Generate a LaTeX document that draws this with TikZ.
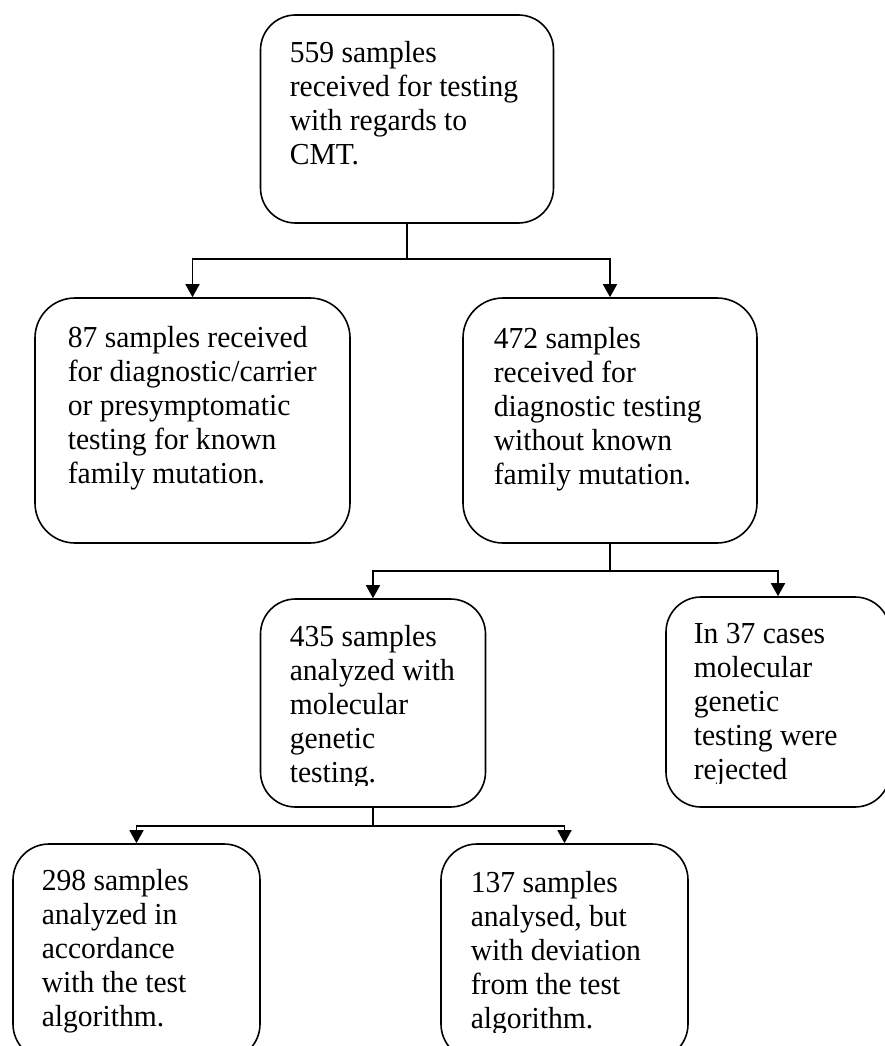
\documentclass[tikz,border=0pt]{standalone}
\usepackage{fontspec}
\setmainfont{Liberation Serif}[FakeStretch=0.97]
\usetikzlibrary{arrows.meta}
\begin{document}
\begin{tikzpicture}[x=1pt,y=-1pt, line width=1.6pt,
  box/.style={draw, line width=1.6pt, inner sep=0pt},
  arr/.style={-{Triangle[width=14pt,length=13pt]}},
  txt/.style={anchor=base west, inner sep=0pt, font=\fontsize{30.5}{34}\selectfont}
]
\useasboundingbox (0,0) rectangle (885,1046);
\newcommand{\tb}[1]{\parbox[t]{300pt}{\raggedright #1}}
% boxes
\node[box, rounded corners=35pt, minimum width=293pt, minimum height=208pt] (b1) at (407,119) {};
\node[box, rounded corners=40pt, minimum width=315pt, minimum height=245pt] (b2) at (192.5,420.5) {};
\node[box, rounded corners=40pt, minimum width=294pt, minimum height=245pt] (b3) at (610,420.5) {};
\node[box, rounded corners=35pt, minimum width=225pt, minimum height=208pt] (b4) at (373,703) {};
\node[box, rounded corners=35pt, minimum width=224pt, minimum height=210pt] (b5) at (778,702) {};
\node[box, rounded corners=36pt, minimum width=247pt, minimum height=216pt] (b6) at (136.5,952) {};
\node[box, rounded corners=36pt, minimum width=247pt, minimum height=216pt] (b7) at (564.5,952) {};
% texts
\begin{scope}
\clip (260,15) rectangle (553,205);
\node[txt] (t1) at (289,63) {\tb{559 samples\\received for testing\\with regards to\\CMT.}};
\end{scope}
\begin{scope}
\clip (35,298) rectangle (350,525);
\node[txt] (t2) at (67,347) {\tb{87 samples received\\for diagnostic/carrier\\or presymptomatic\\testing for known\\family mutation.}};
\end{scope}
\begin{scope}
\clip (463,298) rectangle (757,525);
\node[txt] (t3) at (493,348) {\tb{472 samples\\received for\\diagnostic testing\\without known\\family mutation.}};
\end{scope}
\begin{scope}
\clip (261,599) rectangle (486,785);
\node[txt] (t4) at (289,646) {\tb{435 samples\\analyzed with\\molecular\\genetic\\testing.}};
\end{scope}
\begin{scope}
\clip (666,597) rectangle (885,783);
\node[txt] (t5) at (693,643) {\tb{In 37 cases\\molecular\\genetic\\testing were\\rejected}};
\end{scope}
\begin{scope}
\clip (13,844) rectangle (260,1032);
\node[txt] (t6) at (41,890) {\tb{298 samples\\analyzed in\\accordance\\with the test\\algorithm.}};
\end{scope}
\begin{scope}
\clip (441,844) rectangle (688,1032);
\node[txt] (t7) at (470,892) {\tb{137 samples\\analysed, but\\with deviation\\from the test\\algorithm.}};
\end{scope}
% connectors
\coordinate (j1) at (407,259);
\coordinate (j2) at (610,571);
\coordinate (j3) at (373,826);
\draw (b1.south) -- (j1);
\draw[arr] (j1) -| (b2.north);
\draw[arr] (j1) -| (b3.north);
\draw (b3.south) -- (j2);
\draw[arr] (j2) -| (b4.north);
\draw[arr] (j2) -| (b5.north);
\draw (b4.south) -- (j3);
\draw[arr] (j3) -| (b6.north);
\draw[arr] (j3) -| (b7.north);
\end{tikzpicture}
\end{document}
